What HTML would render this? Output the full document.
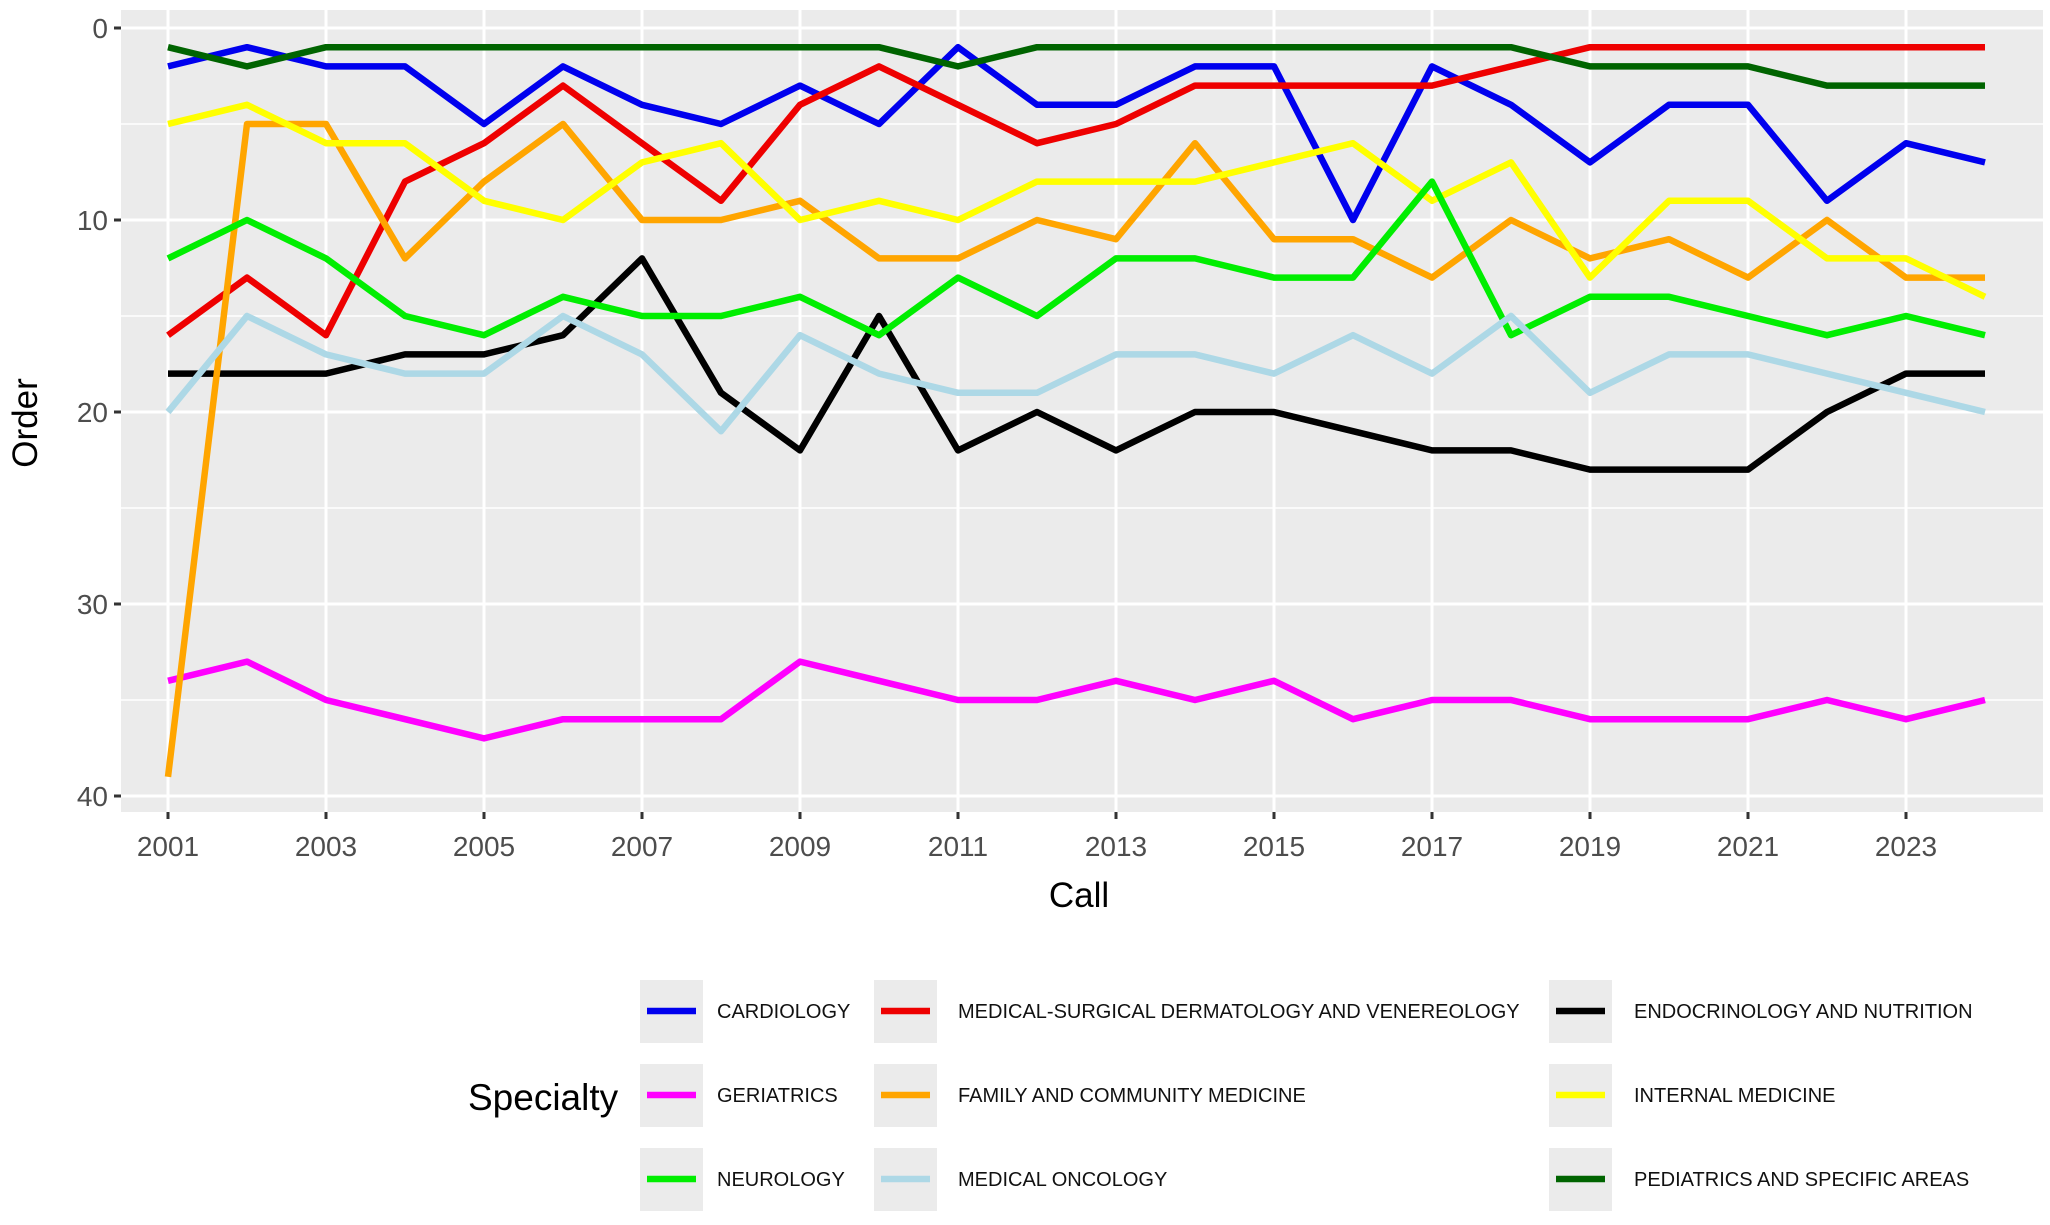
<!DOCTYPE html>
<html><head><meta charset="utf-8"><style>
body{margin:0;background:#fff;}
svg text{font-family:"Liberation Sans",Arial,sans-serif;}
</style></head><body>
<svg id="chart" width="2050" height="1220" viewBox="0 0 2050 1220" xmlns="http://www.w3.org/2000/svg">
<rect x="121" y="10" width="1922" height="802" fill="#ebebeb"/>
<g id="grid"></g>
<g id="axes"></g>
<g id="lines"></g>
<text x="1079" y="907" font-size="35" text-anchor="middle" fill="#000">Call</text>
<text transform="translate(37,423) rotate(-90)" font-size="35" text-anchor="middle" fill="#000">Order</text>
<text x="468" y="1110" font-size="37" fill="#000">Specialty</text>
<g id="legend"></g>
</svg>
<script>
const years=[2001,2002,2003,2004,2005,2006,2007,2008,2009,2010,2011,2012,2013,2014,2015,2016,2017,2018,2019,2020,2021,2022,2023,2024];
const xTicks=[2001,2003,2005,2007,2009,2011,2013,2015,2017,2019,2021,2023];
const yTicks=[0,10,20,30,40];
const yMinor=[5,15,25,35];
const seriesNames=["CARDIOLOGY","MEDICAL-SURGICAL DERMATOLOGY AND VENEREOLOGY","ENDOCRINOLOGY AND NUTRITION","GERIATRICS","FAMILY AND COMMUNITY MEDICINE","INTERNAL MEDICINE","NEUROLOGY","MEDICAL ONCOLOGY","PEDIATRICS AND SPECIFIC AREAS"];
const seriesColors=["#0000ee","#ee0000","#000000","#ff00ff","#ffa500","#ffff00","#00ee00","#add8e6","#006400"];
const cardiology=[2,1,2,2,5,2,4,5,3,5,1,4,4,2,2,10,2,4,7,4,4,9,6,7];
const dermatology=[16,13,16,8,6,3,6,9,4,2,4,6,5,3,3,3,3,2,1,1,1,1,1,1];
const endocrinology=[18,18,18,17,17,16,12,19,22,15,22,20,22,20,20,21,22,22,23,23,23,20,18,18];
const geriatrics=[34,33,35,36,37,36,36,36,33,34,35,35,34,35,34,36,35,35,36,36,36,35,36,35];
const family=[39,5,5,12,8,5,10,10,9,12,12,10,11,6,11,11,13,10,12,11,13,10,13,13];
const internal=[5,4,6,6,9,10,7,6,10,9,10,8,8,8,7,6,9,7,13,9,9,12,12,14];
const neurology=[12,10,12,15,16,14,15,15,14,16,13,15,12,12,13,13,8,16,14,14,15,16,15,16];
const oncology=[20,15,17,18,18,15,17,21,16,18,19,19,17,17,18,16,18,15,19,17,17,18,19,20];
const pediatrics=[1,2,1,1,1,1,1,1,1,1,2,1,1,1,1,1,1,1,2,2,2,3,3,3];
const seriesData=[cardiology,dermatology,endocrinology,geriatrics,family,internal,neurology,oncology,pediatrics];
const NS="http://www.w3.org/2000/svg";
const X=v=>168+(v-2001)*79;
const Y=v=>28+v*19.2;
function mk(tag,attrs,parent){const e=document.createElementNS(NS,tag);for(const k in attrs)e.setAttribute(k,attrs[k]);parent.appendChild(e);return e;}
const grid=document.getElementById('grid'),axes=document.getElementById('axes'),lines=document.getElementById('lines'),legend=document.getElementById('legend');
yMinor.forEach(v=>{const l=mk('line',{x1:121,x2:2043,y1:Y(v),y2:Y(v),stroke:'#fff','stroke-width':1.5},grid);

});
yTicks.forEach(v=>{const l=mk('line',{x1:121,x2:2043,y1:Y(v),y2:Y(v),stroke:'#fff','stroke-width':3},grid);


const t=mk('line',{x1:114,x2:121,y1:Y(v),y2:Y(v),stroke:'#333','stroke-width':3},axes);


const tx=mk('text',{x:108,y:Y(v)+10,'font-size':28,'text-anchor':'end',fill:'#4d4d4d'},axes);tx.textContent=v;

});
xTicks.forEach(v=>{const l=mk('line',{x1:X(v),x2:X(v),y1:10,y2:812,stroke:'#fff','stroke-width':3},grid);


const t=mk('line',{x1:X(v),x2:X(v),y1:812,y2:819,stroke:'#333','stroke-width':3},axes);


const tx=mk('text',{x:X(v),y:856,'font-size':28,'text-anchor':'middle',fill:'#4d4d4d'},axes);tx.textContent=v;

});
seriesData.forEach((d,i)=>{const p=mk('polyline',{points:d.map((v,j)=>X(years[j])+','+Y(v)).join(' '),fill:'none',stroke:seriesColors[i],'stroke-width':6.5,'stroke-linejoin':'round'},lines);

});
const colKey=[640,874,1549],colText=[717,958,1634],rowY=[1011,1095,1179];
seriesNames.forEach((n,i)=>{const c=i%3,r=Math.floor(i/3);
const g=mk('g',{},legend);


mk('rect',{x:colKey[c],y:rowY[r]-31,width:63,height:63,fill:'#ebebeb'},g);
mk('line',{x1:colKey[c]+7,x2:colKey[c]+56,y1:rowY[r],y2:rowY[r],stroke:seriesColors[i],'stroke-width':6.5},g);
const t=mk('text',{x:colText[c],y:rowY[r]+7,'font-size':20,fill:'#111'},g);t.textContent=n;});
</script>
</body></html>
